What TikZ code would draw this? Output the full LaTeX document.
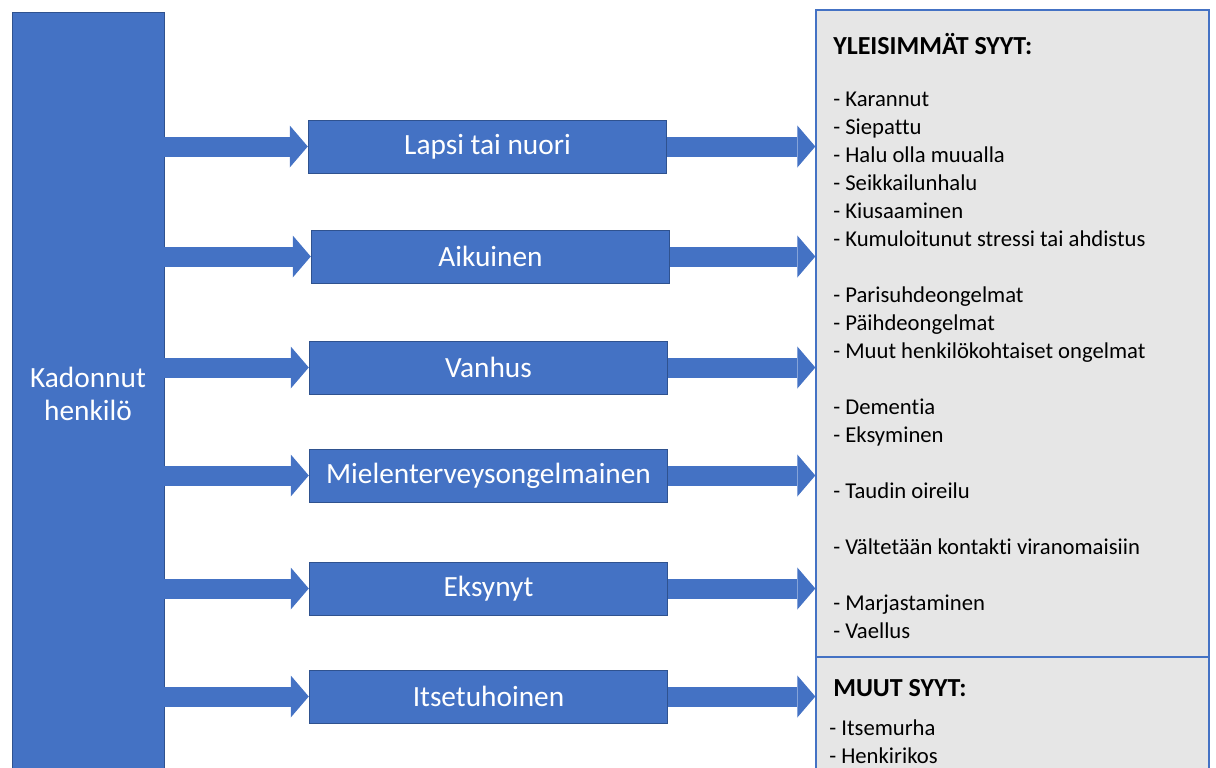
\documentclass[tikz,border=0pt]{standalone}
\usepackage{fontspec}
\setmainfont{Carlito}[Ligatures=NoCommon]
\usetikzlibrary{arrows.meta}
\definecolor{boxblue}{HTML}{4472C4}
\definecolor{edgeblue}{HTML}{2F528F}
\definecolor{panelgray}{HTML}{E6E6E6}
\begin{document}
\begin{tikzpicture}[x=0.75pt,y=-0.75pt,
            grp/.style={draw=edgeblue,line width=0.6pt,fill=boxblue,text=white,font=\fontsize{22}{26}\selectfont,minimum width=269pt,minimum height=39.75pt,inner sep=0pt},
            panel/.style={draw=boxblue,line width=1pt,fill=panelgray,minimum width=294.75pt,inner sep=0pt},
            flow/.style={draw=boxblue,line width=15pt,-{Triangle[length=13.5pt,width=31.5pt,line width=0pt]}},
            head/.style={anchor=base west,inner sep=0pt,font=\fontsize{19.5}{23}\selectfont\bfseries},
            items/.style={anchor=north west,inner sep=0pt,align=left,font=\fontsize{17}{21}\selectfont},
        ]
    \useasboundingbox (0,0) rectangle (1216,767);
    \node[grp,minimum width=114pt,minimum height=573pt,align=center,font=\fontsize{22}{24.75}\selectfont] (kadonnut) at (88,394) {Kadonnut\\henkilö};

    \node[grp] (lapsi) at (487.5,146.5) {Lapsi tai nuori};
    \node[grp] (aikuinen) at (490.5,256.5) {Aikuinen};
    \node[grp] (vanhus) at (488.5,367.5) {Vanhus};
    \node[grp] (mieli) at (488.5,475.5) {Mielenterveysongelmainen};
    \node[grp] (eksynyt) at (488.5,588.5) {Eksynyt};
    \node[grp] (itsetuho) at (488.5,696.5) {Itsetuhoinen};

    \node[panel,minimum height=485.25pt] (yleiset) at (1012.5,333.5) {};
    \node[panel,minimum height=90pt] (muut) at (1012.5,717) {};

    \draw[flow] (kadonnut.east |- lapsi.west) -- (lapsi.west);
    \draw[flow] (kadonnut.east |- aikuinen.west) -- (aikuinen.west);
    \draw[flow] (kadonnut.east |- vanhus.west) -- (vanhus.west);
    \draw[flow] (kadonnut.east |- mieli.west) -- (mieli.west);
    \draw[flow] (kadonnut.east |- eksynyt.west) -- (eksynyt.west);
    \draw[flow] (kadonnut.east |- itsetuho.west) -- (itsetuho.west);

    \draw[flow] (lapsi.east) -- (yleiset.west |- lapsi.east);
    \draw[flow] (aikuinen.east) -- (yleiset.west |- aikuinen.east);
    \draw[flow] (vanhus.east) -- (yleiset.west |- vanhus.east);
    \draw[flow] (mieli.east) -- (yleiset.west |- mieli.east);
    \draw[flow] (eksynyt.east) -- (yleiset.west |- eksynyt.east);
    \draw[flow] (itsetuho.east) -- (yleiset.west |- itsetuho.east);

    \node[head] (yleisethead) at (833,55) {YLEISIMMÄT SYYT:};
    \node[items] (yleisetlist) at (833,92) {- Karannut\\- Siepattu\\- Halu olla muualla\\- Seikkailunhalu\\- Kiusaaminen\\- Kumuloitunut stressi tai ahdistus\\[21pt]
        - Parisuhdeongelmat\\- Päihdeongelmat\\- Muut henkilökohtaiset ongelmat\\[21pt]
        - Dementia\\- Eksyminen\\[21pt]
        - Taudin oireilu\\[21pt]
        - Vältetään kontakti viranomaisiin\\[21pt]
        - Marjastaminen\\- Vaellus};
    \node[head] (muuthead) at (833,696) {MUUT SYYT:};
    \node[items] (muutlist) at (829,719) {- Itsemurha\\- Henkirikos};
\end{tikzpicture}
\end{document}
